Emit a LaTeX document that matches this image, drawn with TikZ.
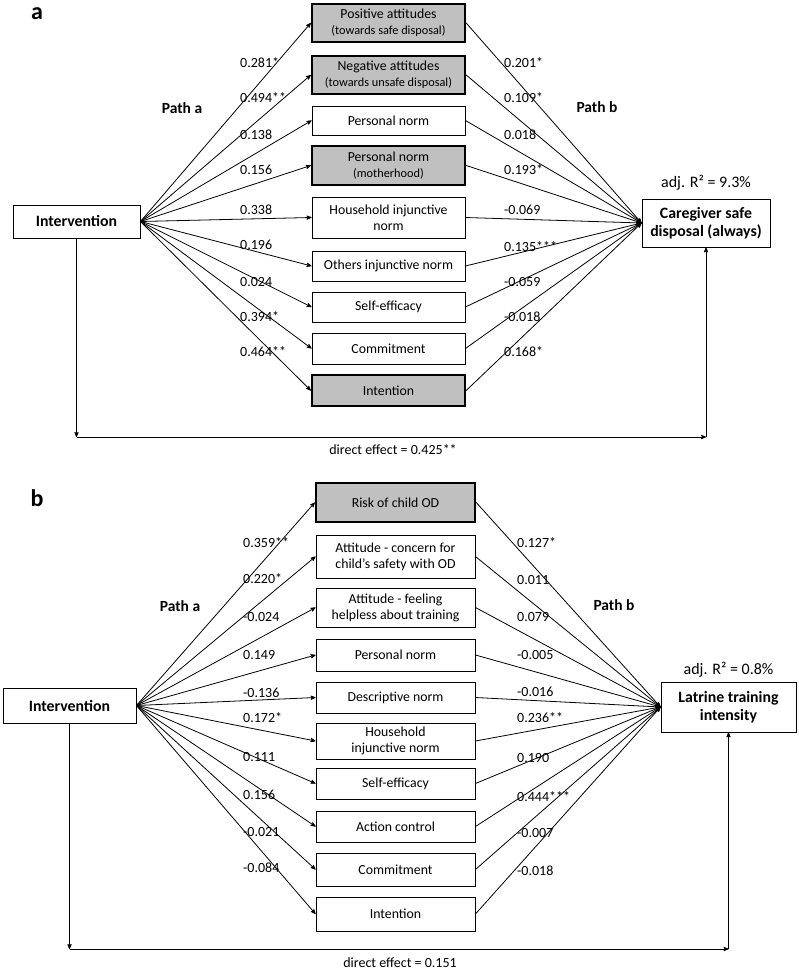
\documentclass[tikz,border=0pt]{standalone}
\usepackage{fontspec}
\setmainfont{Carlito}
\usepackage{tikz}
\usetikzlibrary{arrows}
\definecolor{medgray}{RGB}{192,192,192}
\newcommand{\smalltxt}{\fontsize{12.3}{14}\selectfont}

\begin{document}
\begin{tikzpicture}[x=1pt,y=-1pt,
  med/.style={draw, line width=0.9pt, align=center, inner sep=1pt, font=\fontsize{13.8}{16}\selectfont},
  medA/.style={med, minimum width=153pt},
  medB/.style={med, minimum width=159pt},
  hit/.style={fill=medgray, line width=2.4pt},
  mainbox/.style={draw, line width=0.9pt, align=center, inner sep=1pt, font=\bfseries\fontsize{15.8}{18}\selectfont},
  coef/.style={anchor=west, inner sep=0pt, font=\fontsize{14}{16}\selectfont},
  note/.style={inner sep=0pt, font=\fontsize{14}{16}\selectfont},
  pathlab/.style={inner sep=0pt, font=\bfseries\fontsize{15.5}{18}\selectfont},
  link/.style={->, >=stealth', line width=0.8pt}]
\useasboundingbox (0,0) rectangle (798,971);

%% panel a
\node[inner sep=0pt, font=\bfseries\fontsize{24}{24}\selectfont] (labA) at (37,14) {a};
\node[mainbox, minimum width=127pt, minimum height=33pt] (intervA) at (76.5,221.5) {Intervention};
\node[mainbox, minimum width=128pt, minimum height=48pt] (outA) at (706,223) {Caregiver safe\\disposal (always)};
\node[note, font=\fontsize{16}{18}\selectfont] (r2A) at (706,183) {adj. R² = 9.3\%};

\node[medA, hit, minimum height=37.6pt] (posA) at (388.5,23) {Positive attitudes\\{\smalltxt(towards safe disposal)}};
\node[medA, hit, minimum height=37.6pt] (negA) at (388.5,75) {Negative attitudes\\{\smalltxt(towards unsafe disposal)}};
\node[medA, minimum height=29pt] (pnA) at (388.5,120.5) {Personal norm};
\node[medA, hit, minimum height=38.6pt] (pnmA) at (388.5,165.5) {Personal norm\\{\smalltxt(motherhood)}};
\node[medA, minimum height=41pt] (hinjA) at (388.5,217.5) {Household injunctive\\norm};
\node[medA, minimum height=30pt] (oinjA) at (388.5,266) {Others injunctive norm};
\node[medA, minimum height=30pt] (seA) at (388.5,307) {Self-efficacy};
\node[medA, minimum height=31pt] (comA) at (388.5,348.5) {Commitment};
\node[medA, hit, minimum height=30.6pt] (inteA) at (388.5,390.5) {Intention};

\foreach \m in {posA,negA,pnA,pnmA,hinjA,oinjA,seA,comA,inteA} {
 \draw[link] (intervA.east) -- (\m.west);
 \draw[link] (\m.east) -- (outA.west);
}

\node[pathlab] (pathaA) at (182,108) {Path a};
\node[pathlab] (pathbA) at (597,107) {Path b};
\foreach \y/\c [count=\i] in {63/0.281*,98/0.494**,135/0.138,170/0.156,210/0.338,245/0.196,282/0.024,317/0.394*,352/0.464**} {
 \node[coef] (paA\i) at (240,\y) {\c};
}
\foreach \y/\c [count=\i] in {63/0.201*,98/0.109*,135/0.018,170/0.193*,210/-0.069,247/0.135***,282/-0.059,317/-0.018,352/0.168*} {
 \node[coef] (pbA\i) at (504,\y) {\c};
}

\coordinate (dAl) at (76.5,437);
\coordinate (dAr) at (706,437);
\draw[link] (intervA.south) -- (dAl);
\draw[link] (dAl) -- (dAr);
\draw[link] (dAr) -- (outA.south);
\node[note] (deA) at (393,450) {direct effect = 0.425**};

%% panel b
\node[inner sep=0pt, font=\bfseries\fontsize{24}{24}\selectfont] (labB) at (37,498) {b};
\node[mainbox, minimum width=133pt, minimum height=35pt] (intervB) at (69.5,705.5) {Intervention};
\node[mainbox, minimum width=135pt, minimum height=50pt] (outB) at (728.5,707) {Latrine training\\intensity};
\node[note, font=\fontsize{16}{18}\selectfont] (r2B) at (728.5,670) {adj. R² = 0.8\%};

\node[medB, hit, minimum height=38.6pt] (riskB) at (395.5,502.5) {Risk of child OD};
\node[medB, minimum height=43pt] (attcB) at (395.5,556.5) {Attitude - concern for\\child’s safety with OD};
\node[medB, minimum height=39pt] (atthB) at (395.5,607.5) {Attitude - feeling\\helpless about training};
\node[medB, minimum height=32pt] (pnB) at (395.5,655) {Personal norm};
\node[medB, minimum height=31pt] (dnB) at (395.5,697.5) {Descriptive norm};
\node[medB, minimum height=36pt] (hinjB) at (395.5,741) {Household\\injunctive norm};
\node[medB, minimum height=31pt] (seB) at (395.5,783.5) {Self-efficacy};
\node[medB, minimum height=31pt] (acB) at (395.5,826.5) {Action control};
\node[medB, minimum height=33pt] (comB) at (395.5,869.5) {Commitment};
\node[medB, minimum height=34pt] (inteB) at (395.5,914) {Intention};

\foreach \m in {riskB,attcB,atthB,pnB,dnB,hinjB,seB,acB,comB,inteB} {
 \draw[link] (intervB.east) -- (\m.west);
 \draw[link] (\m.east) -- (outB.west);
}

\node[pathlab] (pathaB) at (180,606) {Path a};
\node[pathlab] (pathbB) at (614,605) {Path b};
\foreach \y/\c [count=\i] in {543/0.359**,579/0.220*,617/-0.024,655/0.149,693/-0.136,718/0.172*,757/0.111,795/0.156,832/-0.021,868/-0.084} {
 \node[coef] (paB\i) at (243,\y) {\c};
}
\foreach \y/\c [count=\i] in {543/0.127*,580/0.011,617/0.079,655/-0.005,692/-0.016,718/0.236**,758/0.190,797/0.444***,833/-0.007,871/-0.018} {
 \node[coef] (pbB\i) at (517,\y) {\c};
}

\coordinate (dBl) at (69.5,949);
\coordinate (dBr) at (728.5,949);
\draw[link] (intervB.south) -- (dBl);
\draw[link] (dBl) -- (dBr);
\draw[link] (dBr) -- (outB.south);
\node[note] (deB) at (400,963) {direct effect = 0.151};
\end{tikzpicture}
\end{document}
